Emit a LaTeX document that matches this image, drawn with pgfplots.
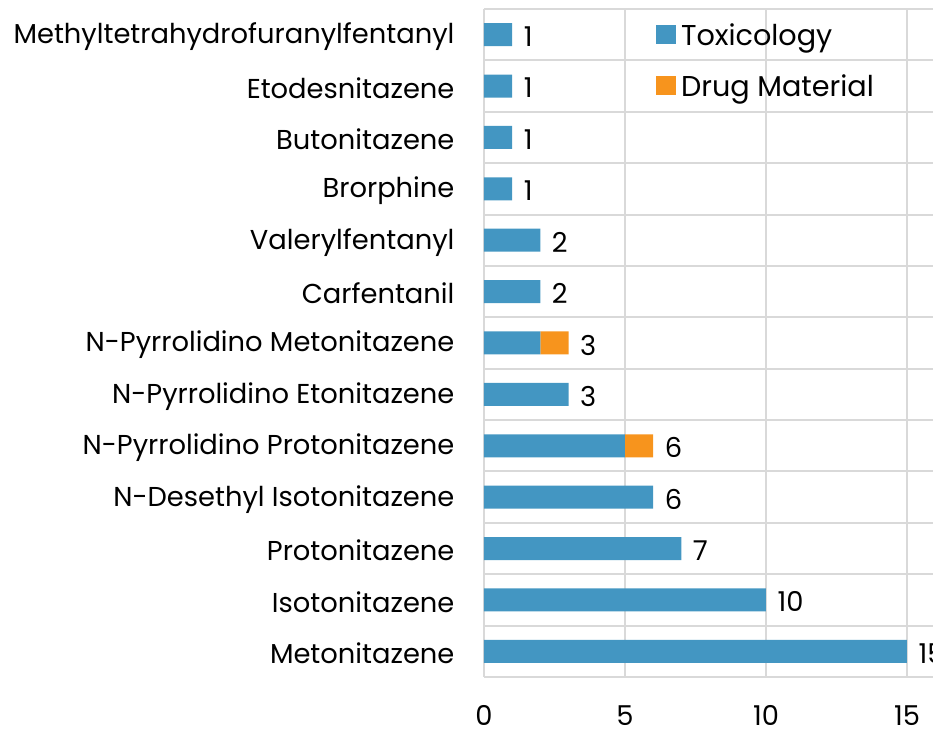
\documentclass[border=0pt]{standalone}
\usepackage{pgfplots}
\pgfplotsset{compat=1.18}
\usepackage{pgfplotstable}
\usepackage{fontspec}
\setmainfont{Poppins}
\definecolor{tox}{HTML}{4396C2}
\definecolor{drug}{HTML}{F7941D}
\definecolor{gridc}{HTML}{D9D9D9}
\pgfplotstableread{
y tox drug total
0 15 0 15
1 10 0 10
2 7 0 7
3 6 0 6
4 5 1 6
5 3 0 3
6 2 1 3
7 2 0 2
8 2 0 2
9 1 0 1
10 1 0 1
11 1 0 1
12 1 0 1
}\data
\pgfplotsset{common/.style={
  scale only axis,
  width=338.4pt, height=501pt,
  xmin=0, xmax=16, ymin=-0.5, ymax=12.5,
  font=\fontsize{20.5}{24}\selectfont,
  /pgf/number format/assume math mode=true,
}}
\begin{document}
\begin{tikzpicture}
\begin{axis}[
  common,
  xbar stacked, bar width=17.25pt,
  xtick={0,5,10,15},
  ytick={0,...,12},
  yticklabels={Metonitazene,Isotonitazene,Protonitazene,N-Desethyl Isotonitazene,N-Pyrrolidino Protonitazene,N-Pyrrolidino Etonitazene,N-Pyrrolidino Metonitazene,Carfentanil,Valerylfentanyl,Brorphine,Butonitazene,Etodesnitazene,Methyltetrahydrofuranylfentanyl},
  minor ytick={-0.5,0.5,...,12.5},
  xmajorgrids, yminorgrids,
  grid style={gridc, line width=1.5pt},
  minor grid style={gridc, line width=1.5pt},
  axis line style={draw=none},
  major tick length=0pt, minor tick length=0pt,
  yticklabel style={inner sep=0pt, xshift=-22pt, yshift=-1.5pt, text=black},
  xticklabel style={inner sep=0pt, text depth=0pt, yshift=-21.5pt, text=black},
  legend style={at={(axis cs:6.1,11.51)}, anchor=west, draw=none, fill=none,
    row sep=22pt, font=\fontsize{21.5}{25}\selectfont, inner sep=0pt,
    nodes={inner sep=0pt, text depth=0pt}},
  legend cell align=left,
  legend image code/.code={\fill[#1,draw=none] (0pt,-7.5pt) rectangle (15pt,7pt);},
  clip=false,
]
\addplot[fill=tox, draw=none] table[x=tox, y=y] {\data};
\addlegendentry{\,Toxicology}
\addplot[fill=drug, draw=none] table[x=drug, y=y] {\data};
\addlegendentry{\,Drug Material}
\coordinate (sw) at (rel axis cs:0,0);
\coordinate (nw) at (rel axis cs:0,1);
\end{axis}
\begin{axis}[common, hide axis, clip=false]
\addplot[draw=none, mark=none, nodes near coords, point meta=x,
  every node near coord/.style={anchor=west, inner sep=0pt, xshift=8.5pt, yshift=-1.5pt, text=black}]
  table[x=total, y=y] {\data};
\end{axis}
\pgfresetboundingbox
\path[use as bounding box] ([xshift=-363pt,yshift=-41.25pt]sw) rectangle ([xshift=336.75pt,yshift=6.75pt]nw);
\end{tikzpicture}
\end{document}
